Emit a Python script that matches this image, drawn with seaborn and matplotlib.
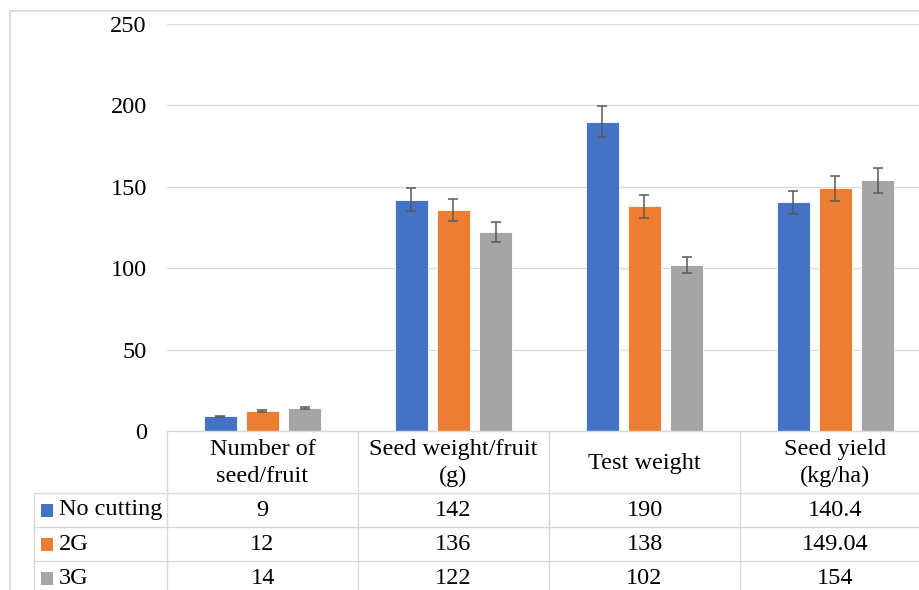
import numpy as np
import pandas as pd
import matplotlib
matplotlib.use("Agg")
import matplotlib.pyplot as plt
import seaborn as sns
from matplotlib.patches import Rectangle

# Data
categories = ["Number of\nseed/fruit", "Seed weight/fruit\n(g)", "Test weight", "Seed yield\n(kg/ha)"]
treatments = ["No cutting", "2G", "3G"]
no_cutting = [9, 142, 190, 140.4]
g2 = [12, 136, 138, 149.04]
g3 = [14, 122, 102, 154]
# error bar half-lengths
err_no_cutting = [0.45, 7.1, 9.5, 7.0]
err_2g = [0.6, 6.8, 6.9, 7.5]
err_3g = [0.7, 6.1, 5.1, 7.7]
yticks = [0, 50, 100, 150, 200, 250]
palette = ["#4472C4", "#ED7D31", "#A5A5A5"]

series = [no_cutting, g2, g3]
errors = [err_no_cutting, err_2g, err_3g]

rows = []
for t, vals, errs in zip(treatments, series, errors):
    for c, v, e in zip(categories, vals, errs):
        rows.append({"Trait": c, "Treatment": t, "Value": v, "Err": e})
df = pd.DataFrame(rows)

sns.set_theme(style="white")
plt.rcParams['font.family'] = ['Liberation Serif', 'DejaVu Serif']
FS = 17.5
GRID = "#d9d9d9"

W, H = 920, 590
fig = plt.figure(figsize=(W / 100, H / 100), dpi=100)
fig.patch.set_facecolor("white")

# plot area in pixels: x 167..931, y 24..431
ax = fig.add_axes([167 / W, 1 - 431 / H, (931 - 167) / W, (431 - 24) / H])
sns.barplot(data=df, x="Trait", y="Value", hue="Treatment", palette=palette,
            width=0.66, gap=0.21, errorbar=None, legend=False,
            edgecolor="white", linewidth=0.6, saturation=1, ax=ax, zorder=2)

# error bars on top of each bar
for cont, errs in zip(ax.containers, errors):
    xs = [b.get_x() + b.get_width() / 2 for b in cont]
    hs = [b.get_height() for b in cont]
    ax.errorbar(xs, hs, yerr=errs, fmt="none", ecolor="#595959",
                elinewidth=1.1, capsize=3.3, capthick=1.1, zorder=3)

ax.set_xlim(-0.5, len(categories) - 0.5)
ax.set_ylim(0, 250)
ax.set_yticks(yticks)
ax.set_yticklabels([str(v) for v in yticks], fontsize=FS, color="black")
ax.tick_params(axis="y", length=0, pad=14.5)
ax.set_xticks([])
ax.set_xlabel("")
ax.set_ylabel("")
ax.grid(axis="y", color=GRID, linewidth=0.9, zorder=0)
ax.set_axisbelow(True)
for s in ax.spines.values():
    s.set_visible(False)

# overlay in pixel coordinates for the data table and chart border
ov = fig.add_axes([0, 0, 1, 1], zorder=5)
ov.set_xlim(0, W)
ov.set_ylim(H, 0)
ov.axis("off")

def to_px(x, y):
    return ov.transData.inverted().transform(ax.transData.transform((x, y)))

bounds = [to_px(i - 0.5, 0)[0] for i in range(len(categories) + 1)]
centers = [to_px(i, 0)[0] for i in range(len(categories))]
y_top = to_px(0, 0)[1]
hdr_bot = 493
row_h = 34
tbl_left = 34
lw = 1.0

# chart border
ov.plot([10, 10], [11, H + 10], color=GRID, lw=1.3)
ov.plot([10, W + 10], [11, 11], color=GRID, lw=1.3)

# table grid
for xb in bounds:
    ov.plot([xb, xb], [y_top, H + 10], color=GRID, lw=lw)
ov.plot([tbl_left, tbl_left], [hdr_bot, H + 10], color=GRID, lw=lw)
ov.plot([bounds[0], bounds[-1]], [y_top, y_top], color=GRID, lw=lw)
for i in range(len(treatments)):
    yy = hdr_bot + i * row_h
    ov.plot([tbl_left, bounds[-1]], [yy, yy], color=GRID, lw=lw)

# header
for c, xc in zip(categories, centers):
    ov.text(xc, (y_top + hdr_bot) / 2 + 1, c, ha="center", va="center",
            fontsize=FS, linespacing=1.33, color="black")

# rows with legend keys
for i, (t, vals, col) in enumerate(zip(treatments, series, palette)):
    yc = hdr_bot + row_h * (i + 0.5)
    ov.add_patch(Rectangle((41, yc - 6), 12.5, 12.5, color=col, lw=0))
    ov.text(59, yc, t, ha="left", va="center", fontsize=FS, color="black")
    for v, xc in zip(vals, centers):
        ov.text(xc, yc, f"{v:g}", ha="center", va="center", fontsize=FS, color="black")

fig.savefig("out.png", dpi=100, facecolor="white")
